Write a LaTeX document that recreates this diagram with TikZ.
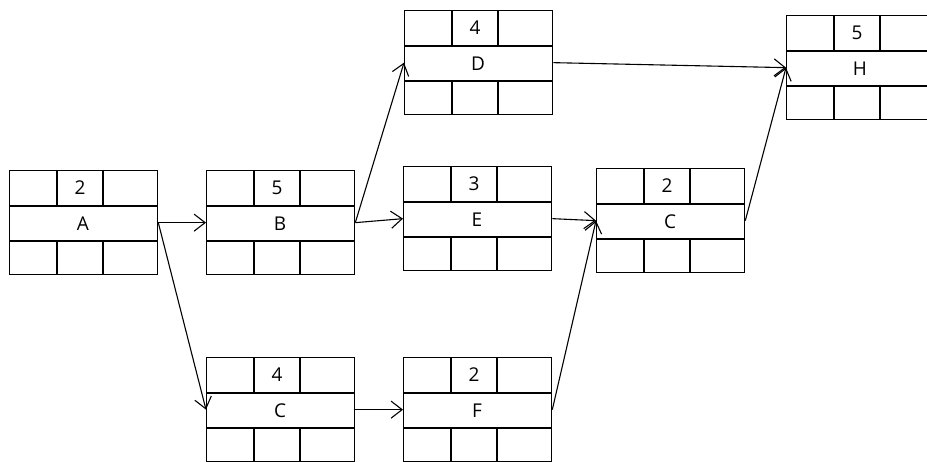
\documentclass[tikz,border=0pt]{standalone}
\usepackage{fontspec}
\setmainfont{Open Sans}
\usepackage{tikz}
\usetikzlibrary{arrows.meta}

\begin{document}
\begin{tikzpicture}[x=1pt, y=-1pt,
	box/.style={draw, line width=1.3pt, minimum width=\boxw pt, minimum height=\boxh pt, inner sep=0pt, anchor=north west},
	cell/.style={line width=1.3pt},
	link/.style={line width=1.1pt, -{Straight Barb[length=11pt, width=17pt, line width=1.1pt]}},
	txt/.style={font=\fontsize{19}{22}\selectfont, inner sep=0pt}]

\def\boxw{148}
\def\boxh{104}
\def\rowa{36}
\def\rowb{71}
\def\cola{48}
\def\colb{94}

%\actbox{name}{topleft}{duration}{label}
\newcommand*{\actbox}[4]{%
	\node [box] (#1) at (#2) {};
	\draw [cell] (#1.north west) ++(0,\rowa) -- ++(\boxw,0);
	\draw [cell] (#1.north west) ++(0,\rowb) -- ++(\boxw,0);
	\draw [cell] (#1.north west) ++(\cola,0) -- ++(0,\rowa);
	\draw [cell] (#1.north west) ++(\colb,0) -- ++(0,\rowa);
	\draw [cell] (#1.north west) ++(\cola,\rowb) -- ++(0,\boxh-\rowb);
	\draw [cell] (#1.north west) ++(\colb,\rowb) -- ++(0,\boxh-\rowb);
	\node [txt] (#1-dur) at ([shift={(71,18)}]#1.north west) {#3};
	\node [txt] (#1-lbl) at ([shift={(74,54)}]#1.north west) {#4};
}

\useasboundingbox (0,0) rectangle (927,461);

% activities
\actbox{A}{9,170}{2}{A}
\actbox{B}{206,170}{5}{B}
\actbox{D}{404,10}{4}{D}
\actbox{E}{403,166}{3}{E}
\actbox{C1}{596,168}{2}{C}
\actbox{H}{786,15}{5}{H}
\actbox{C2}{206,357}{4}{C}
\actbox{F}{403,357}{2}{F}

% links
\draw [link] (A.east) -- (B.west);
\draw [link] (A.east) -- (C2.west);
\draw [link] (B.east) -- (D.west);
\draw [link] (B.east) -- (E.west);
\draw [link] (D.east) -- (H.west);
\draw [link] (E.east) -- (C1.west);
\draw [link] (C2.east) -- (F.west);
\draw [link] (F.east) -- (C1.west);
\draw [link] (C1.east) -- (H.west);

\end{tikzpicture}
\end{document}
